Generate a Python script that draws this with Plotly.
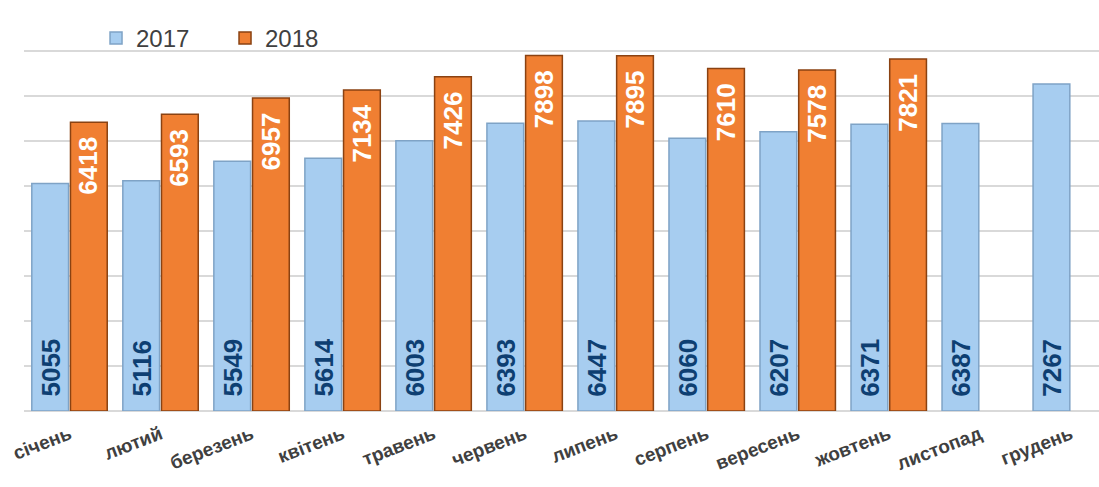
import plotly.graph_objects as go

months = ["січень", "лютий", "березень", "квітень", "травень", "червень",
          "липень", "серпень", "вересень", "жовтень", "листопад", "грудень"]
values_2017 = [5055, 5116, 5549, 5614, 6003, 6393, 6447, 6060, 6207, 6371, 6387, 7267]
values_2018 = [6418, 6593, 6957, 7134, 7426, 7898, 7895, 7610, 7578, 7821, None, None]

label_font = "Liberation Sans, Arial, sans-serif"

fig = go.Figure()
fig.add_trace(go.Bar(
    name="2017", x=months, y=values_2017,
    marker=dict(color="#A7CDF0", line=dict(color="#7FA3C6", width=1.5)),
))
fig.add_trace(go.Bar(
    name="2018", x=months, y=values_2018,
    marker=dict(color="#F07F32", line=dict(color="#8A4212", width=1.5)),
))

annotations = []
for m, v in zip(months, values_2017):
    annotations.append(dict(
        x=m, y=0, xref="x", yref="y", text=str(v), showarrow=False,
        textangle=-90, yanchor="bottom", xanchor="center", xshift=-19, yshift=12,
        font=dict(family=label_font, size=26, color="#0E3F72", weight="bold"),
    ))
for m, v in zip(months, values_2018):
    if v is None:
        continue
    annotations.append(dict(
        x=m, y=v, xref="x", yref="y", text=str(v), showarrow=False,
        textangle=-90, yanchor="top", xanchor="center", xshift=19, yshift=-13,
        font=dict(family=label_font, size=26, color="white", weight="bold"),
    ))

fig.update_layout(
    width=1099, height=487,
    margin=dict(l=24, r=0, t=6, b=76),
    paper_bgcolor="white", plot_bgcolor="white",
    barmode="group", bargap=0.15, bargroupgap=0.05,
    showlegend=True,
    legend=dict(orientation="h", x=0.067, y=0.92, xanchor="left", yanchor="middle",
                font=dict(family="Liberation Sans, Arial, sans-serif", size=24, color="#404040"),
                bgcolor="rgba(0,0,0,0)", entrywidth=84, entrywidthmode="pixels"),
    annotations=annotations,
)
fig.update_xaxes(
    range=[-0.5, 11.31], showgrid=False, showline=False, ticks="",
    tickangle=-21, automargin=False, ticklabelstandoff=8,
    tickfont=dict(family="Liberation Sans, Arial, sans-serif", size=19, color="#404040", weight="bold"),
)
fig.update_yaxes(
    range=[0, 9000], dtick=1000, showticklabels=False, showgrid=True,
    gridcolor="#D9D9D9", gridwidth=2, zeroline=True, zerolinecolor="#D9D9D9", zerolinewidth=2,
    showline=False, automargin=False,
)

fig.write_html("out.html", config={"displayModeBar": False},
               post_script="document.body.style.margin='0';")
